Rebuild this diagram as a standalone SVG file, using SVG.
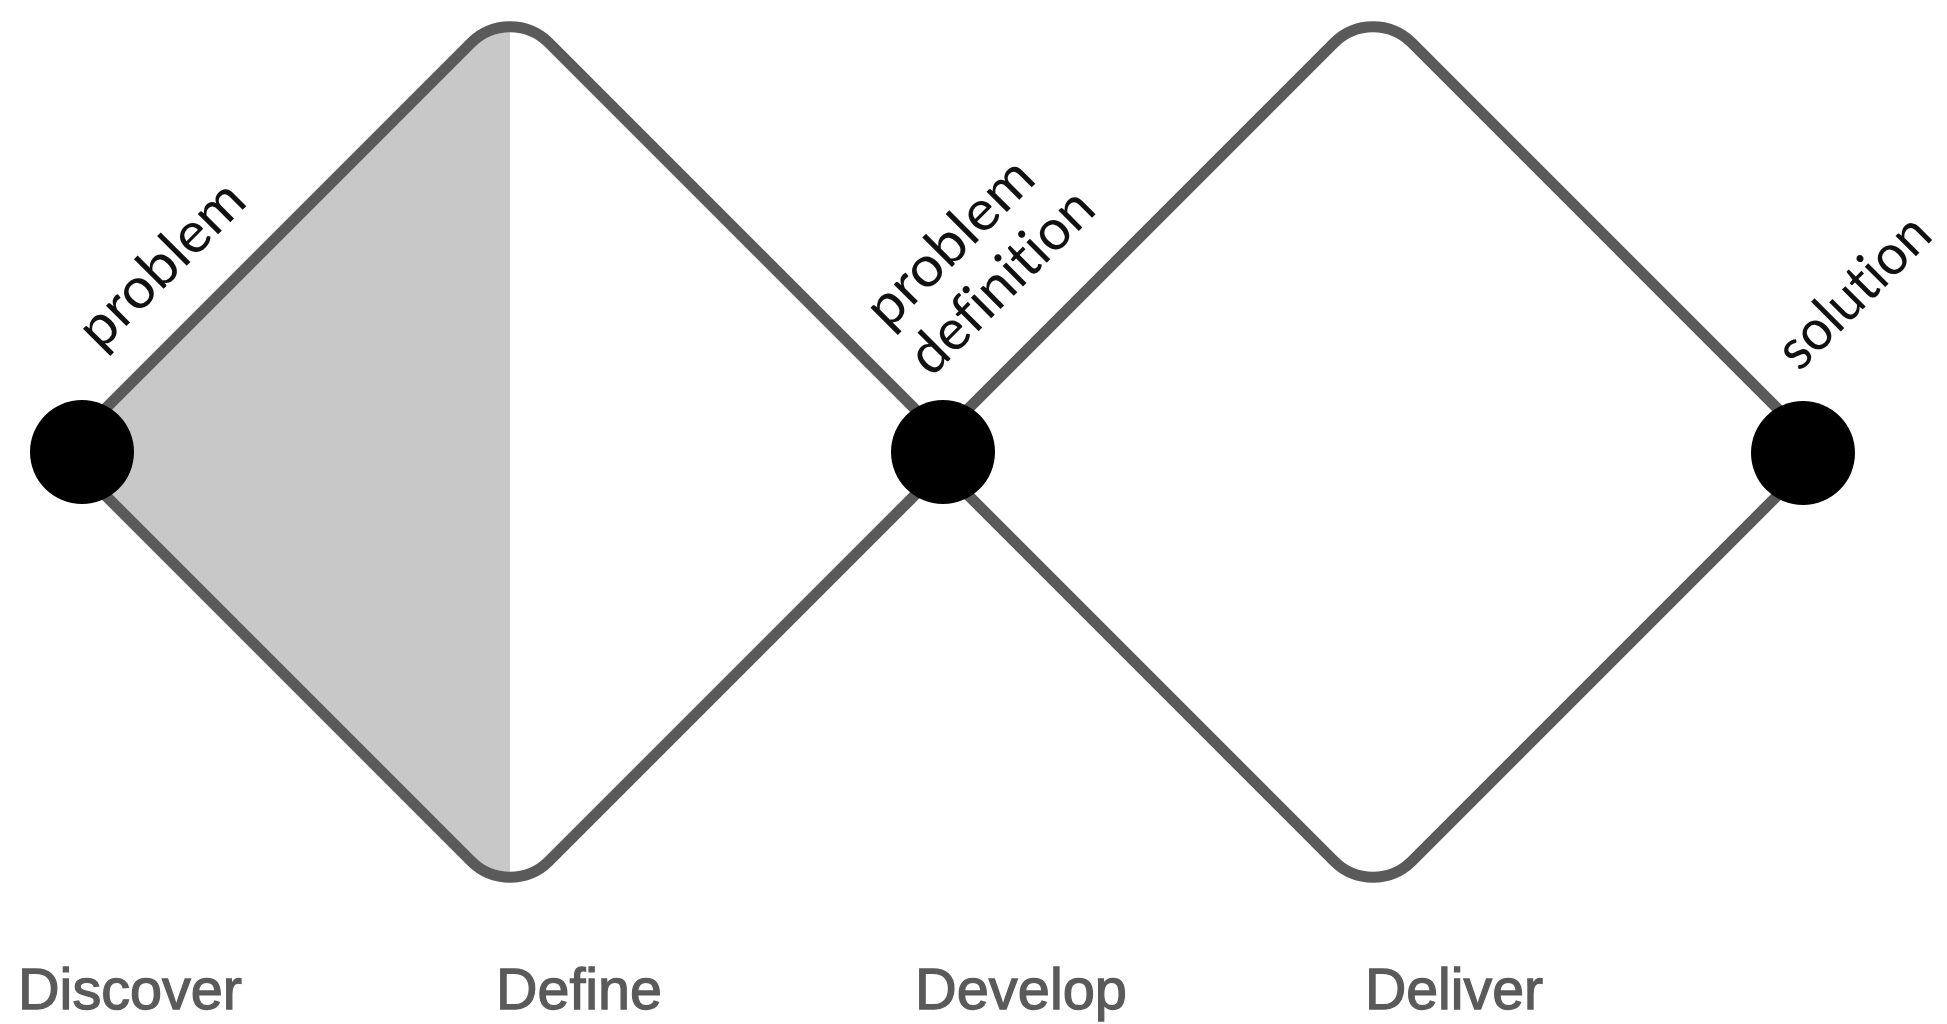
<svg xmlns="http://www.w3.org/2000/svg" width="1947" height="1024" viewBox="0 0 1947 1024">
  <style>
    .edge { fill: none; stroke: #5a5a5a; stroke-width: 11; stroke-linejoin: round; }
    .dot { fill: #000000; }
    .diag { font-family: Lato, "Open Sans", "Liberation Sans", sans-serif; font-weight: 400; font-size: 57px; fill: #111111; font-variant-ligatures: none; }
    .phase { font-family: "Liberation Sans", Arial, sans-serif; font-size: 58px; fill: #5a5a5a; stroke: #5a5a5a; stroke-width: 1.3; }
  </style>
  <defs>
    <path id="d1" d="M 100.9 413.1 L 471.1 42.9 A 55 55 0 0 1 548.9 42.9 L 919.1 413.1 A 55 55 0 0 1 919.1 490.9 L 548.9 861.1 A 55 55 0 0 1 471.1 861.1 L 100.9 490.9 A 55 55 0 0 1 100.9 413.1 Z"/>
    <path id="d2" d="M 963.9 413.1 L 1334.1 42.9 A 55 55 0 0 1 1411.9 42.9 L 1782.1 413.1 A 55 55 0 0 1 1782.1 490.9 L 1411.9 861.1 A 55 55 0 0 1 1334.1 861.1 L 963.9 490.9 A 55 55 0 0 1 963.9 413.1 Z"/>
    <clipPath id="leftHalf">
      <rect x="0" y="0" width="510" height="1024"/>
    </clipPath>
  </defs>
  <rect x="0" y="0" width="1947" height="1024" fill="#ffffff"/>

  <g id="connectors">
    <use href="#d1" fill="#c8c8c8" stroke="none" clip-path="url(#leftHalf)"/>
    <use href="#d1" class="edge"/>
    <use href="#d2" class="edge"/>
  </g>

  <g id="node-problem">
    <circle class="dot" cx="82" cy="452" r="52"/>
    <text class="diag" transform="translate(100.4,352.1) rotate(-45)" textLength="210" lengthAdjust="spacingAndGlyphs">problem</text>
  </g>

  <g id="node-problem-definition">
    <circle class="dot" cx="943" cy="452" r="52"/>
    <text class="diag" transform="translate(888.1,330.9) rotate(-45)" textLength="212" lengthAdjust="spacingAndGlyphs">problem</text>
    <text class="diag" transform="translate(931.3,378.3) rotate(-45)" textLength="236" lengthAdjust="spacingAndGlyphs">definition</text>
  </g>

  <g id="node-solution">
    <circle class="dot" cx="1803" cy="453" r="52"/>
    <text class="diag" transform="translate(1799.6,372.6) rotate(-45)" textLength="191" lengthAdjust="spacingAndGlyphs">solution</text>
  </g>

  <g id="phase-labels">
    <text class="phase" x="18" y="1009" textLength="224" lengthAdjust="spacingAndGlyphs">Discover</text>
    <text class="phase" x="496" y="1009" textLength="166" lengthAdjust="spacingAndGlyphs">Define</text>
    <text class="phase" x="915" y="1009" textLength="212" lengthAdjust="spacingAndGlyphs">Develop</text>
    <text class="phase" x="1365" y="1009" textLength="178" lengthAdjust="spacingAndGlyphs">Deliver</text>
  </g>
</svg>
